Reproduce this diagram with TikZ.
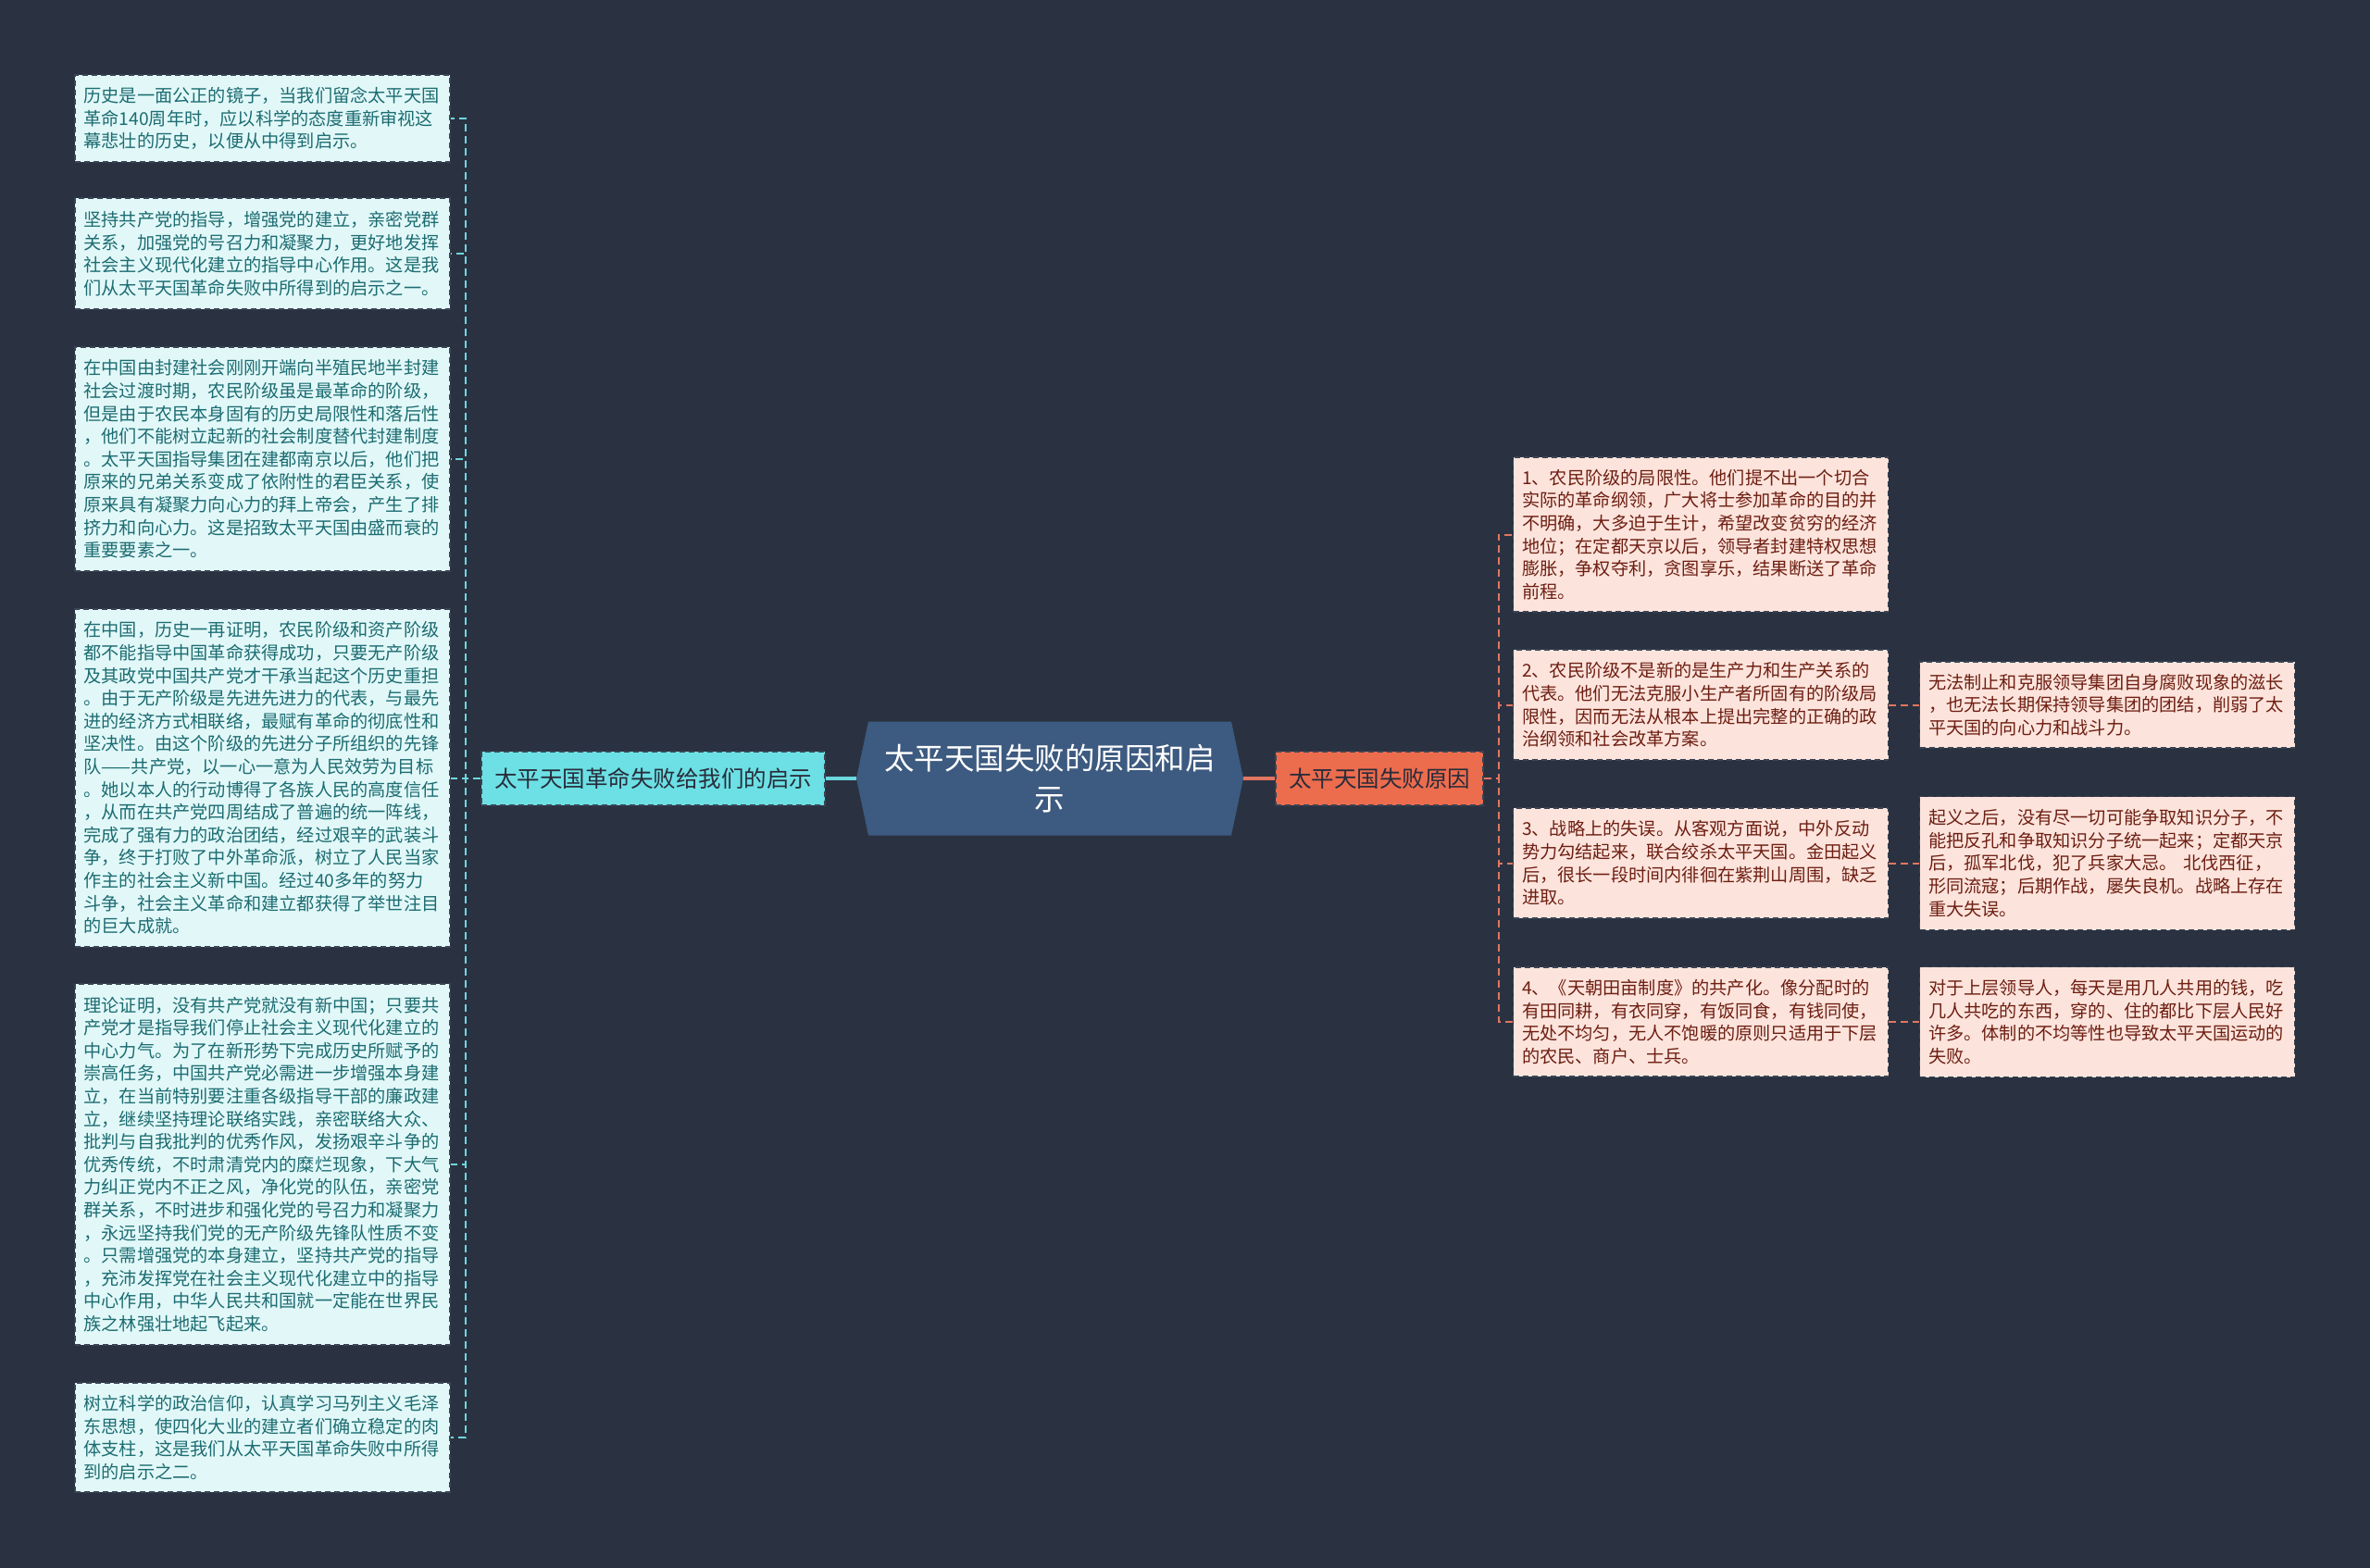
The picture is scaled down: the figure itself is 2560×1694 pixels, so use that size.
\documentclass[tikz,border=0pt]{standalone}
\usepackage{fontspec}
\setmainfont{Noto Sans CJK SC}
\definecolor{bg}{RGB}{42,50,65}
\definecolor{lfill}{RGB}{226,248,248}
\definecolor{ltext}{RGB}{28,108,114}
\definecolor{rfill}{RGB}{252,228,220}
\definecolor{rtext}{RGB}{110,30,18}
\definecolor{boxedge}{RGB}{58,68,84}
\definecolor{lmainfill}{RGB}{108,224,228}
\definecolor{rmainfill}{RGB}{236,108,78}
\definecolor{rootfill}{RGB}{61,90,128}
\definecolor{darktext}{RGB}{40,44,58}
\definecolor{lline}{RGB}{108,216,222}
\definecolor{rline}{RGB}{226,118,96}
\begin{document}
\begin{tikzpicture}[x=1pt,y=-1pt,
  basebox/.style={draw=boxedge, dash pattern=on 6pt off 4pt, line width=1.5pt,
    font=\fontsize{19.2}{24.6}\selectfont, text width=386pt, inner xsep=9.5pt,
    inner ysep=0pt, align=left},
  lbox/.style={basebox, fill=lfill, text=ltext},
  rbox/.style={basebox, fill=rfill, text=rtext},
  mainnode/.style={draw=boxedge, dash pattern=on 6pt off 4pt, line width=1.5pt,
    font=\fontsize{24.5}{30}\selectfont, text=darktext, inner sep=0pt,
    minimum height=58pt},
  rootnode/.style={inner sep=0pt, minimum width=418pt, minimum height=123pt,
    text=white, align=center, font=\fontsize{32.5}{44}\selectfont,
    path picture={\fill[rootfill]
      ([xshift=13pt]path picture bounding box.north west) --
      ([xshift=-13pt]path picture bounding box.north east) --
      (path picture bounding box.east) --
      ([xshift=-13pt]path picture bounding box.south east) --
      ([xshift=13pt]path picture bounding box.south west) --
      (path picture bounding box.west) -- cycle;}},
  lconn/.style={draw=lline, line width=2pt, dash pattern=on 8pt off 5pt},
  rconn/.style={draw=rline, line width=2pt, dash pattern=on 8pt off 5pt},
  lsolid/.style={draw=lline, line width=4pt},
  rsolid/.style={draw=rline, line width=4pt}
]
\useasboundingbox (0,0) rectangle (2560,1694);
\fill[bg] (0,0) rectangle (2560,1694);

% central and main nodes
\node[rootnode] (root) at (1134,841) {太平天国失败的原因和启\\示};
\node[mainnode, fill=lmainfill, minimum width=371pt] (lmain) at (705.5,841) {太平天国革命失败给我们的启示};
\node[mainnode, fill=rmainfill, minimum width=224pt] (rmain) at (1490,841) {太平天国失败原因};

% left boxes
\node[lbox, minimum height=94pt] (l1) at (283.5,128) {历史是一面公正的镜子，当我们留念太平天国\\革命140周年时，应以科学的态度重新审视这\\幕悲壮的历史，以便从中得到启示。};
\node[lbox, minimum height=120pt] (l2) at (283.5,274) {坚持共产党的指导，增强党的建立，亲密党群\\关系，加强党的号召力和凝聚力，更好地发挥\\社会主义现代化建立的指导中心作用。这是我\\们从太平天国革命失败中所得到的启示之一。};
\node[lbox, minimum height=242pt] (l3) at (283.5,496) {在中国由封建社会刚刚开端向半殖民地半封建\\社会过渡时期，农民阶级虽是最革命的阶级，\\但是由于农民本身固有的历史局限性和落后性\\，他们不能树立起新的社会制度替代封建制度\\。太平天国指导集团在建都南京以后，他们把\\原来的兄弟关系变成了依附性的君臣关系，使\\原来具有凝聚力向心力的拜上帝会，产生了排\\挤力和向心力。这是招致太平天国由盛而衰的\\重要要素之一。};
\node[lbox, minimum height=365pt] (l4) at (283.5,840.5) {在中国，历史一再证明，农民阶级和资产阶级\\都不能指导中国革命获得成功，只要无产阶级\\及其政党中国共产党才干承当起这个历史重担\\。由于无产阶级是先进先进力的代表，与最先\\进的经济方式相联络，最赋有革命的彻底性和\\坚决性。由这个阶级的先进分子所组织的先锋\\队——共产党，以一心一意为人民效劳为目标\\。她以本人的行动博得了各族人民的高度信任\\，从而在共产党四周结成了普遍的统一阵线，\\完成了强有力的政治团结，经过艰辛的武装斗\\争，终于打败了中外革命派，树立了人民当家\\作主的社会主义新中国。经过40多年的努力\\斗争，社会主义革命和建立都获得了举世注目\\的巨大成就。};
\node[lbox, minimum height=390pt] (l5) at (283.5,1258) {理论证明，没有共产党就没有新中国；只要共\\产党才是指导我们停止社会主义现代化建立的\\中心力气。为了在新形势下完成历史所赋予的\\崇高任务，中国共产党必需进一步增强本身建\\立，在当前特别要注重各级指导干部的廉政建\\立，继续坚持理论联络实践，亲密联络大众、\\批判与自我批判的优秀作风，发扬艰辛斗争的\\优秀传统，不时肃清党内的糜烂现象，下大气\\力纠正党内不正之风，净化党的队伍，亲密党\\群关系，不时进步和强化党的号召力和凝聚力\\，永远坚持我们党的无产阶级先锋队性质不变\\。只需增强党的本身建立，坚持共产党的指导\\，充沛发挥党在社会主义现代化建立中的指导\\中心作用，中华人民共和国就一定能在世界民\\族之林强壮地起飞起来。};
\node[lbox, minimum height=118pt] (l6) at (283.5,1553) {树立科学的政治信仰，认真学习马列主义毛泽\\东思想，使四化大业的建立者们确立稳定的肉\\体支柱，这是我们从太平天国革命失败中所得\\到的启示之二。};

% right boxes
\node[rbox, minimum height=167pt] (r1) at (1837,577.5) {1、农民阶级的局限性。他们提不出一个切合\\实际的革命纲领，广大将士参加革命的目的并\\不明确，大多迫于生计，希望改变贫穷的经济\\地位；在定都天京以后，领导者封建特权思想\\膨胀，争权夺利，贪图享乐，结果断送了革命\\前程。};
\node[rbox, minimum height=119pt] (r2) at (1837,761.5) {2、农民阶级不是新的是生产力和生产关系的\\代表。他们无法克服小生产者所固有的阶级局\\限性，因而无法从根本上提出完整的正确的政\\治纲领和社会改革方案。};
\node[rbox, minimum height=119pt] (r3) at (1837,932.5) {3、战略上的失误。从客观方面说，中外反动\\势力勾结起来，联合绞杀太平天国。金田起义\\后，很长一段时间内徘徊在紫荆山周围，缺乏\\进取。};
\node[rbox, minimum height=118pt] (r4) at (1837,1104) {4、《天朝田亩制度》的共产化。像分配时的\\有田同耕，有衣同穿，有饭同食，有钱同使，\\无处不均匀，无人不饱暖的原则只适用于下层\\的农民、商户、士兵。};

\node[rbox, minimum height=93pt] (f1) at (2276,761.5) {无法制止和克服领导集团自身腐败现象的滋长\\，也无法长期保持领导集团的团结，削弱了太\\平天国的向心力和战斗力。};
\node[rbox, minimum height=144pt] (f2) at (2276,932.5) {起义之后，没有尽一切可能争取知识分子，不\\能把反孔和争取知识分子统一起来；定都天京\\后，孤军北伐，犯了兵家大忌。 北伐西征，\\形同流寇；后期作战，屡失良机。战略上存在\\重大失误。};
\node[rbox, minimum height=119pt] (f3) at (2276,1104) {对于上层领导人，每天是用几人共用的钱，吃\\几人共吃的东西，穿的、住的都比下层人民好\\许多。体制的不均等性也导致太平天国运动的\\失败。};

% connectors
\coordinate (lspine) at (503,841);
\coordinate (rspine) at (1619,841);
\draw[lsolid] (root.west) -- (lmain.east);
\draw[rsolid] (root.east) -- (rmain.west);
\foreach \b in {l1,l2,l3,l4,l5,l6}
  \draw[lconn] (lmain.west) -- (lspine) |- (\b.east);
\foreach \b in {r1,r2,r3,r4}
  \draw[rconn] (rmain.east) -- (rspine) |- (\b.west);
\draw[rconn] (r2.east) -- (f1.west);
\draw[rconn] (r3.east) -- (f2.west);
\draw[rconn] (r4.east) -- (f3.west);
\end{tikzpicture}
\end{document}
